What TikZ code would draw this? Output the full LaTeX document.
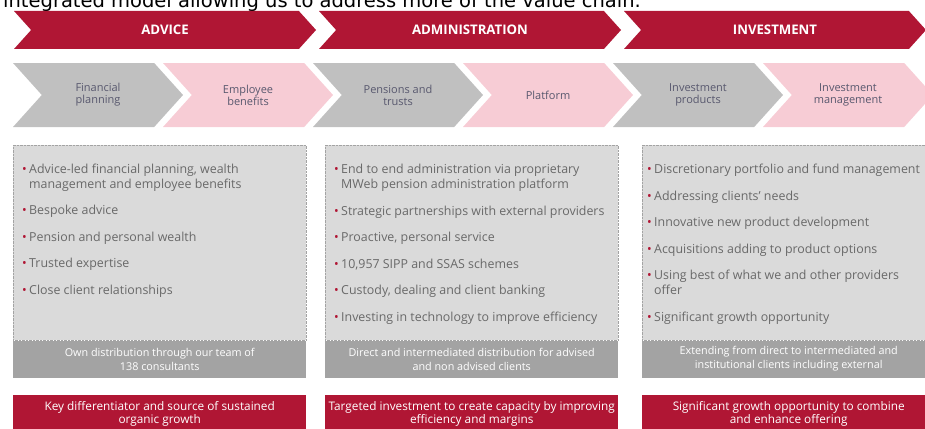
\documentclass[tikz,border=0pt]{standalone}
\usepackage{fontspec}
\setmainfont{Open Sans}
\newfontfamily\leadfont{DejaVu Sans}
\usetikzlibrary{shapes.symbols}
\definecolor{mwred}{RGB}{176,22,52}
\definecolor{mwgrey}{RGB}{192,192,192}
\definecolor{mwpink}{RGB}{247,204,213}
\definecolor{mwpanel}{RGB}{218,218,218}
\definecolor{mwband}{RGB}{163,163,163}
\definecolor{mwtext}{RGB}{105,105,105}
\definecolor{mwlabel}{RGB}{88,88,110}
\newcommand{\blt}{\makebox[7pt][l]{\textcolor{mwred}{\textbullet}}}
\newcommand{\ind}{\hspace*{7pt}}
\begin{document}
\begin{tikzpicture}[x=1pt, y=-1pt,
    stage/.style = {signal, signal from=west, signal to=east, signal pointer angle=96,
      fill=mwred, text=white, inner sep=0pt, minimum width=302pt, minimum height=38pt,
      font=\bfseries\fontsize{13.2}{15}\selectfont},
    sub/.style = {signal, signal from=west, signal to=east, signal pointer angle=96,
      inner sep=0pt, minimum width=170pt, minimum height=64pt, align=center,
      text=mwlabel, font=\fontsize{11}{12}\selectfont},
    panel/.style = {draw=mwband, densely dotted, fill=mwpanel, anchor=north west,
      inner sep=0pt, minimum width=293pt, minimum height=195pt},
    band/.style = {fill=mwband, anchor=north west, inner sep=0pt, minimum width=293pt,
      minimum height=37pt, align=center, text=white, font=\fontsize{10.8}{14}\selectfont},
    verdict/.style = {fill=mwred, anchor=north west, inner sep=0pt, minimum width=293pt,
      minimum height=37pt, align=center, text=white, font=\fontsize{11.8}{13}\selectfont},
    points/.style = {anchor=base west, inner sep=0pt, align=left, text=mwtext,
      font=\fontsize{12.4}{15}\selectfont}]

  \useasboundingbox (0,0) rectangle (925,428);

  \node[anchor=base west, inner sep=0pt, font=\leadfont\fontsize{19.5}{21}\selectfont] (lead) at (3,7.5)
    {integrated model allowing us to address more of the value chain.};

  \foreach \name/\x/\txt in {advice/165/ADVICE, admin/470/ADMINISTRATION, invest/775/INVESTMENT}
    \node[stage] (\name) at (\x,30) {\txt};

  \foreach \txt/\col [count=\i from 0, evaluate=\i as \x using {98+150*\i}] in
      {{Financial\\planning}/mwgrey, {Employee\\benefits}/mwpink, {Pensions and\\trusts}/mwgrey,
       {Platform}/mwpink, {Investment\\products}/mwgrey, {Investment\\management}/mwpink}
    \node[sub, fill=\col] (sub_\i) at (\x,95) {\txt};

  \foreach \x/\bandtxt/\verdicttxt [count=\i from 0] in
      {13/{Own distribution through our team of\\138 consultants}/{Key differentiator and source of sustained\\organic growth},
       325/{Direct and intermediated distribution for advised\\and non advised clients}/{Targeted investment to create capacity by improving\\efficiency and margins},
       642/{Extending from direct to intermediated and\\institutional clients including external}/{Significant growth opportunity to combine\\and enhance offering}} {
    \node[panel] (panel_\i) at (\x,145) {};
    \node[band] (band_\i) at (panel_\i.south west) {\bandtxt};
    \node[verdict] (verdict_\i) at (\x,395) {\verdicttxt};
  }

  \node[points] (points_0) at (22,294) {\blt Advice-led financial planning, wealth\\
    \ind management and employee benefits\\[11.5pt]
    \blt Bespoke advice\\[11.5pt]
    \blt Pension and personal wealth\\[11.5pt]
    \blt Trusted expertise\\[11.5pt]
    \blt Close client relationships};

  \node[points] (points_1) at (334,321) {\blt End to end administration via proprietary\\
    \ind MWeb pension administration platform\\[11.5pt]
    \blt Strategic partnerships with external providers\\[11.5pt]
    \blt Proactive, personal service\\[11.5pt]
    \blt 10,957 SIPP and SSAS schemes\\[11.5pt]
    \blt Custody, dealing and client banking\\[11.5pt]
    \blt Investing in technology to improve efficiency};

  \node[points] (points_2) at (647,321) {\blt Discretionary portfolio and fund management\\[11.5pt]
    \blt Addressing clients' needs\\[11.5pt]
    \blt Innovative new product development\\[11.5pt]
    \blt Acquisitions adding to product options\\[11.5pt]
    \blt Using best of what we and other providers\\
    \ind offer\\[11.5pt]
    \blt Significant growth opportunity};

\end{tikzpicture}
\end{document}
